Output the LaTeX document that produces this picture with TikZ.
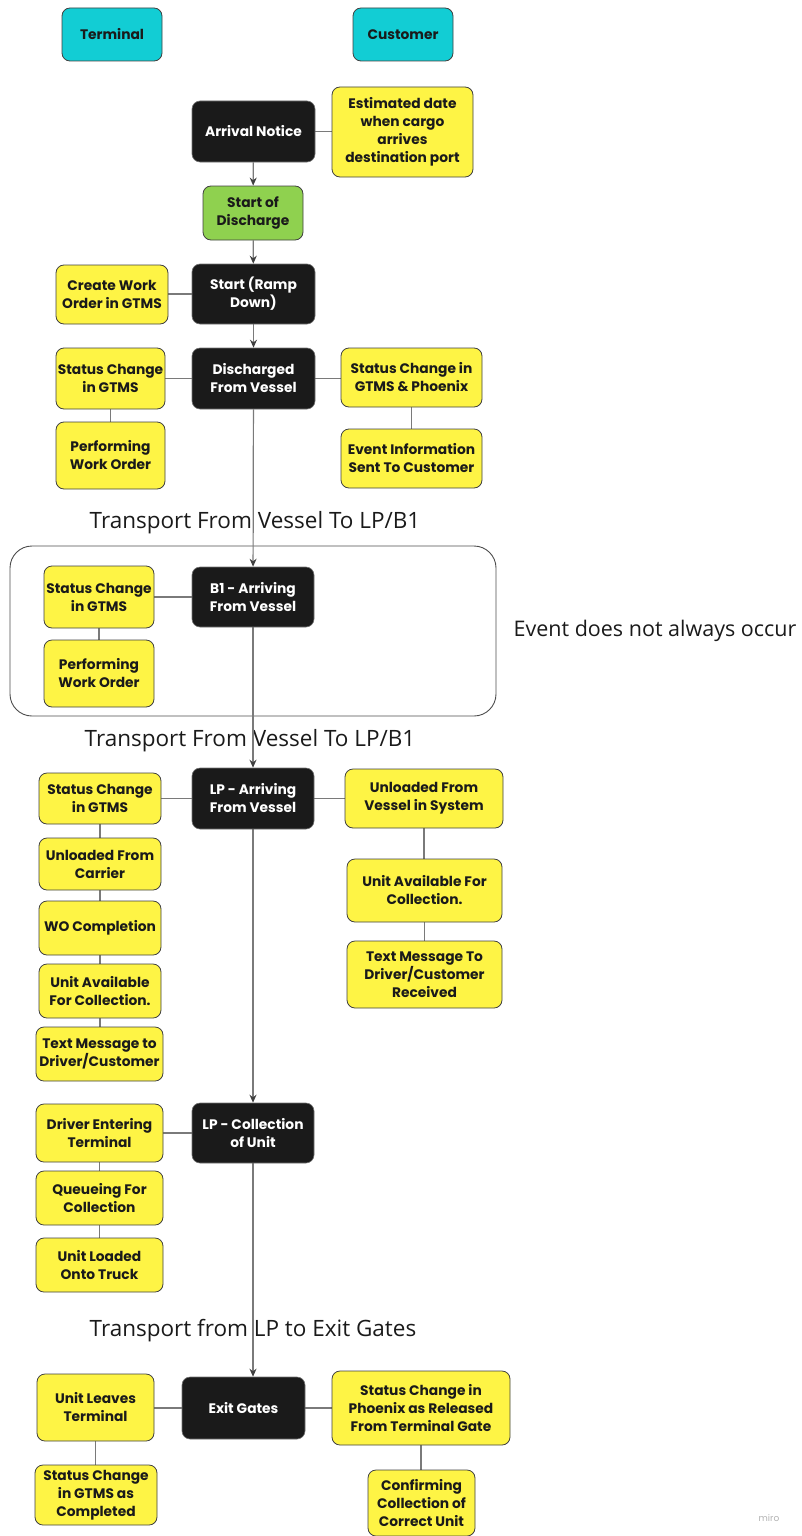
\documentclass[tikz,border=0pt]{standalone}
\usepackage{fontspec}
\setmainfont{Poppins}
\newfontfamily\labelfont{Open Sans}
\usetikzlibrary{arrows.meta,backgrounds}
\definecolor{myyellow}{HTML}{FEF445}
\definecolor{mycyan}{HTML}{12CDD4}
\definecolor{mygreen}{HTML}{8FD14F}
\definecolor{myblack}{HTML}{1A1A1A}
\definecolor{lineg}{HTML}{7A7A7A}
\tikzset{
  base/.style={rounded corners=8pt, align=center, font=\bfseries\fontsize{13.8}{18}\selectfont, inner sep=1pt},
  ybox/.style={base, fill=myyellow, draw=black!75, line width=0.8pt, text=myblack},
  bbox/.style={base, fill=myblack, draw=black!55, line width=0.6pt, text=white},
  cbox/.style={base, fill=mycyan, draw=black!75, line width=0.8pt, text=myblack},
  gbox/.style={base, fill=mygreen, draw=black!75, line width=0.8pt, text=myblack},
  link/.style={draw=lineg, line width=1.2pt},
  arr/.style={link, -{Stealth[length=8pt,width=7pt,color=black!75]}},
  lbl/.style={font=\labelfont\fontsize{22.5}{26}\selectfont, text=myblack, inner sep=0pt},
  wh/.style 2 args={minimum width=#1, minimum height=#2},
  grp/.style={draw=black!70, line width=0.9pt, rounded corners=22pt}
}
\begin{document}
\begin{tikzpicture}[x=1pt,y=-1pt]
\useasboundingbox (0,0) rectangle (801,1536);
% headers
\node[cbox, wh={100}{53}] (term) at (112,34.5) {Terminal};
\node[cbox, wh={100}{53}] (cust) at (403,34.5) {Customer};
% top flow
\node[bbox, wh={123}{61}] (an) at (253.5,131.5) {Arrival Notice};
\node[ybox, wh={141}{90}] (est) at (402.5,132) {Estimated date\\when cargo\\arrives\\destination port};
\node[gbox, wh={100}{54}] (sod) at (253,213) {Start of\\Discharge};
\node[bbox, wh={123}{60}] (ramp) at (253.5,294) {Start (Ramp\\Down)};
\node[ybox, wh={112}{59}] (wo) at (112,294.5) {Create Work\\Order in GTMS};
\node[bbox, wh={123}{61}] (dis) at (253.5,378.5) {Discharged\\From Vessel};
\node[ybox, wh={109}{61}] (sc1) at (110.5,378.5) {Status Change\\in GTMS};
\node[ybox, wh={141}{59}] (scp) at (411.5,377.5) {Status Change in\\GTMS \& Phoenix};
\node[ybox, wh={109}{67}] (pwo1) at (110.5,455.5) {Performing\\Work Order};
\node[ybox, wh={141}{59}] (evi) at (411.5,458.5) {Event Information\\Sent To Customer};
% B1
\node[ybox, wh={110}{62}] (sc2) at (99,597) {Status Change\\in GTMS};
\node[bbox, wh={122}{60}] (b1) at (253,597) {B1 - Arriving\\From Vessel};
\node[ybox, wh={110}{67}] (pwo2) at (99,673.5) {Performing\\Work Order};
% LP arriving
\node[bbox, wh={122}{61}] (lpa) at (253,798.5) {LP - Arriving\\From Vessel};
\node[ybox, wh={122}{51}] (sc3) at (100,798.5) {Status Change\\in GTMS};
\node[ybox, wh={158}{59}] (unv) at (424,798.5) {Unloaded From\\Vessel in System};
\node[ybox, wh={122}{52}] (unc) at (100,864) {Unloaded From\\Carrier};
\node[ybox, wh={122}{54}] (woc) at (100,928) {WO Completion};
\node[ybox, wh={122}{54}] (uaf1) at (100,991) {Unit Available\\For Collection.};
\node[ybox, wh={127}{54}] (tm1) at (99.5,1054) {Text Message to\\Driver/Customer};
\node[ybox, wh={155}{63}] (uaf2) at (424.5,890.5) {Unit Available For\\Collection.};
\node[ybox, wh={155}{67}] (tm2) at (424.5,974.5) {Text Message To\\Driver/Customer\\Received};
% LP collection
\node[bbox, wh={122}{60}] (lpc) at (253,1133) {LP - Collection\\of Unit};
\node[ybox, wh={127}{58}] (dri) at (99.5,1133) {Driver Entering\\Terminal};
\node[ybox, wh={127}{54}] (que) at (99.5,1198) {Queueing For\\Collection};
\node[ybox, wh={127}{54}] (ulo) at (99.5,1265) {Unit Loaded\\Onto Truck};
% exit
\node[bbox, wh={123}{62}] (ex) at (243.5,1408) {Exit Gates};
\node[ybox, wh={117}{67}] (ulv) at (95.5,1407.5) {Unit Leaves\\Terminal};
\node[ybox, wh={178}{74}] (scph) at (421,1408) {Status Change in\\Phoenix as Released\\From Terminal Gate};
\node[ybox, wh={122}{60}] (scg) at (96,1495) {Status Change\\in GTMS as\\Completed};
\node[ybox, wh={107}{66}] (ccu) at (421.5,1503) {Confirming\\Collection of\\Correct Unit};
\node[font=\fontsize{9}{10}\selectfont, text=black!30] (miro) at (769,1518) {miro};

\begin{scope}[on background layer]
  \node[grp, minimum width=486, minimum height=170] (group) at (253,631) {};
  \node[lbl] (t1) at (255,523) {Transport From Vessel To LP/B1};
  \node[lbl] (t2) at (250,741) {Transport From Vessel To LP/B1};
  \node[lbl] (t3) at (253,1331) {Transport from LP to Exit Gates};
  \node[lbl, font=\labelfont\fontsize{21.5}{25}\selectfont] (ev) at (655,631) {Event does not always occur};
  % main flow
  \draw[arr] (an) -- (sod);
  \draw[arr] (sod) -- (ramp);
  \draw[arr] (ramp) -- (dis);
  \draw[arr] (dis) -- (b1);
  \draw[arr] (b1) -- (lpa);
  \draw[arr] (lpa) -- (lpc);
  \draw[arr] (lpc.south) -- (lpc.south |- ex.north);
  % side links
  \draw[link] (an.east) -- (an.east -| est.west);
  \draw[link] (ramp.west) -- (ramp.west -| wo.east);
  \draw[link] (dis.west) -- (dis.west -| sc1.east);
  \draw[link] (dis.east) -- (dis.east -| scp.west);
  \draw[link] (sc1.south) -- (sc1.south |- pwo1.north);
  \draw[link] (scp.south) -- (scp.south |- evi.north);
  \draw[link] (b1.west) -- (b1.west -| sc2.east);
  \draw[link] (sc2.south) -- (sc2.south |- pwo2.north);
  \draw[link] (lpa.west) -- (lpa.west -| sc3.east);
  \draw[link] (lpa.east) -- (lpa.east -| unv.west);
  \draw[link] (sc3.south) -- (sc3.south |- unc.north);
  \draw[link] (unc.south) -- (unc.south |- woc.north);
  \draw[link] (woc.south) -- (woc.south |- uaf1.north);
  \draw[link] (uaf1.south) -- (uaf1.south |- tm1.north);
  \draw[link] (unv.south) -- (unv.south |- uaf2.north);
  \draw[link] (uaf2.south) -- (uaf2.south |- tm2.north);
  \draw[link] (lpc.west) -- (lpc.west -| dri.east);
  \draw[link] (dri.south) -- (dri.south |- que.north);
  \draw[link] (que.south) -- (que.south |- ulo.north);
  \draw[link] (ex.west) -- (ex.west -| ulv.east);
  \draw[link] (ex.east) -- (ex.east -| scph.west);
  \draw[link] (ulv.south) -- (ulv.south |- scg.north);
  \draw[link] (scph.south) -- (scph.south |- ccu.north);
\end{scope}
\end{tikzpicture}
\end{document}
